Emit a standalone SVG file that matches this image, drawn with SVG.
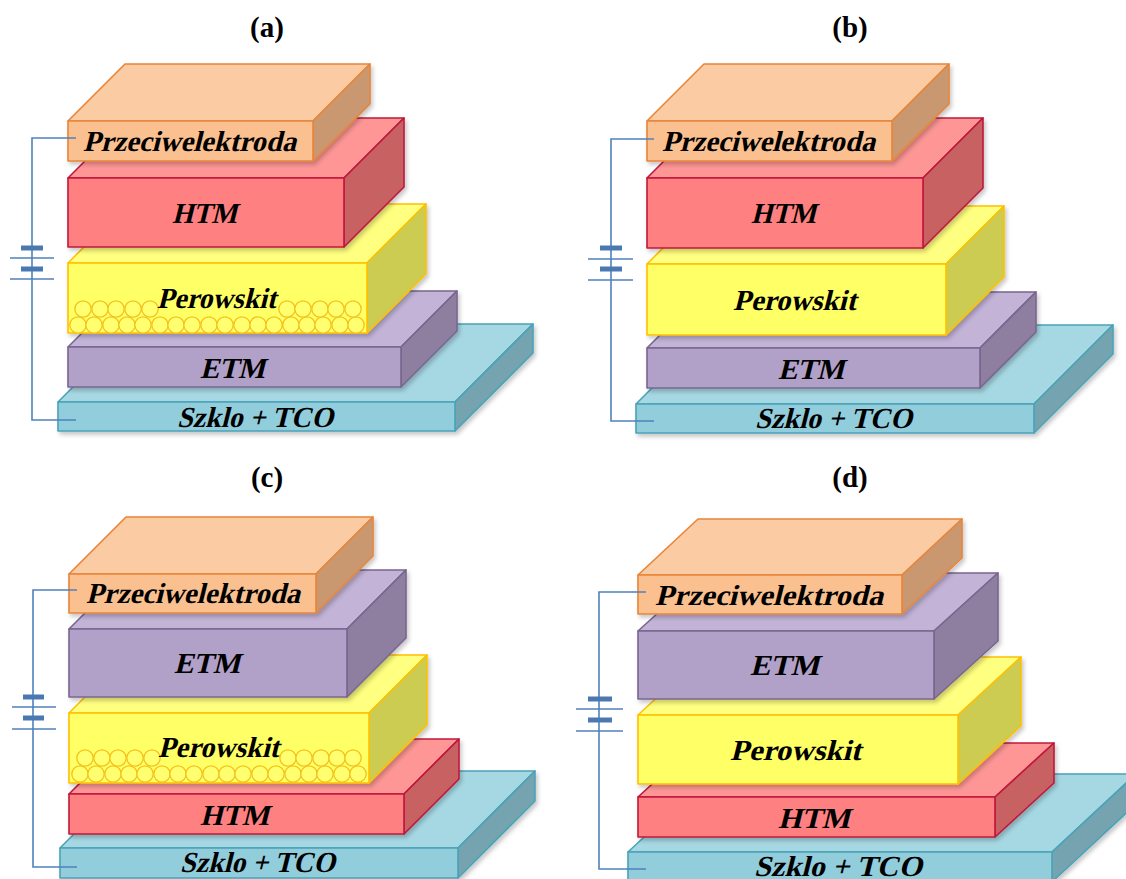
<svg xmlns="http://www.w3.org/2000/svg" width="1126" height="879" viewBox="0 0 1126 879">
  <defs>
    <style>
      .title { font-family: "Liberation Serif", "Times New Roman", serif; font-weight: bold; font-size: 29px; fill: #000; text-anchor: middle; }
      /* layer names: bold serif, slanted by a skew on each text */
      .lbl { font-family: "Liberation Serif", "Times New Roman", serif; font-weight: bold; font-size: 29px; fill: #000; }
      .slab { filter: url(#shadow); }
      .slab > * { stroke-width: 1.6; stroke-linejoin: round; }
      .ce > * { stroke: #E8853A; } .ce rect { fill: #FAC090; } .ce .top { fill: #FBCBA3; } .ce .side { fill: #C99870; }
      .htm > * { stroke: #C0183C; } .htm rect { fill: #FF8080; } .htm .top { fill: #FF9696; } .htm .side { fill: #C86262; }
      .pv > * { stroke: #FFC000; } .pv rect { fill: #FFFF66; } .pv .top { fill: #FFFF80; } .pv .side { fill: #CCCC52; }
      .etm > * { stroke: #7A6590; } .etm rect { fill: #B1A0C7; } .etm .top { fill: #C2B3D7; } .etm .side { fill: #8E7FA0; }
      .gl > * { stroke: #4AA3B8; } .gl rect { fill: #92CDDC; } .gl .top { fill: #A6D8E3; } .gl .side { fill: #74A4B0; }
      .bead { fill: #FFFF70; stroke: #F5C21B; stroke-width: 1.3; }
      .wire { fill: none; stroke: #4F81BD; stroke-width: 1.6; }
      .plate { fill: none; stroke: #4A78B0; stroke-width: 5; }
    </style>
    <filter id="shadow" x="-5%" y="-5%" width="115%" height="125%">
      <feDropShadow dx="2" dy="3" stdDeviation="2" flood-color="#000" flood-opacity="0.22"/>
    </filter>
    <circle id="bead" r="8.2"/>
  </defs>

  <rect width="1126" height="879" fill="#fff"/>

  <!-- Panel titles -->
  <text class="title" x="267" y="37">(a)</text>
  <text class="title" x="850" y="37">(b)</text>
  <text class="title" x="267" y="487">(c)</text>
  <text class="title" x="850" y="487">(d)</text>

  <!-- ===== Panel (a) ===== -->
  <g id="a-glass" class="slab gl">
    <polygon class="top" points="58,402 136,324 533,324 455,402"/>
    <polygon class="side" points="455,402 533,324 533,353 455,431"/>
    <rect x="58" y="402" width="397" height="29"/>
  </g>
  <g id="a-etm" class="slab etm">
    <polygon class="top" points="68,347 124,291 457,291 401,347"/>
    <polygon class="side" points="401,347 457,291 457,331 401,387"/>
    <rect x="68" y="347" width="333" height="40"/>
  </g>
  <g id="a-perovskite" class="slab pv">
    <polygon class="top" points="68,263 127,204 426,204 367,263"/>
    <polygon class="side" points="367,263 426,204 426,274 367,333"/>
    <rect x="68" y="263" width="299" height="70"/>
  </g>
  <g id="a-beads">
    <use href="#bead" class="bead" x="78" y="325"/><use href="#bead" class="bead" x="94" y="325"/>
    <use href="#bead" class="bead" x="111" y="325"/><use href="#bead" class="bead" x="127" y="325"/>
    <use href="#bead" class="bead" x="143" y="325"/><use href="#bead" class="bead" x="160" y="325"/>
    <use href="#bead" class="bead" x="176" y="325"/><use href="#bead" class="bead" x="192" y="325"/>
    <use href="#bead" class="bead" x="209" y="325"/><use href="#bead" class="bead" x="225" y="325"/>
    <use href="#bead" class="bead" x="242" y="325"/><use href="#bead" class="bead" x="258" y="325"/>
    <use href="#bead" class="bead" x="274" y="325"/><use href="#bead" class="bead" x="291" y="325"/>
    <use href="#bead" class="bead" x="307" y="325"/><use href="#bead" class="bead" x="323" y="325"/>
    <use href="#bead" class="bead" x="340" y="325"/><use href="#bead" class="bead" x="356" y="325"/>
    <use href="#bead" class="bead" x="83" y="309"/><use href="#bead" class="bead" x="100" y="309"/>
    <use href="#bead" class="bead" x="116" y="309"/><use href="#bead" class="bead" x="133" y="309"/>
    <use href="#bead" class="bead" x="150" y="309"/>
    <use href="#bead" class="bead" x="287" y="309"/><use href="#bead" class="bead" x="303" y="309"/>
    <use href="#bead" class="bead" x="320" y="309"/><use href="#bead" class="bead" x="336" y="309"/>
    <use href="#bead" class="bead" x="353" y="309"/>
  </g>
  <g id="a-htm" class="slab htm">
    <polygon class="top" points="68,178 128,118 404,118 344,178"/>
    <polygon class="side" points="344,178 404,118 404,187 344,247"/>
    <rect x="68" y="178" width="276" height="69"/>
  </g>
  <g id="a-electrode" class="slab ce">
    <polygon class="top" points="68,121 125,64 370,64 313,121"/>
    <polygon class="side" points="313,121 370,64 370,104 313,161"/>
    <rect x="68" y="121" width="245" height="40"/>
  </g>
  <g id="a-labels">
    <text class="lbl" transform="translate(83,151) skewX(-14)" textLength="213" lengthAdjust="spacingAndGlyphs">Przeciwelektroda</text>
    <text class="lbl" transform="translate(172,223) skewX(-14)" textLength="65" lengthAdjust="spacingAndGlyphs">HTM</text>
    <text class="lbl" transform="translate(157,308) skewX(-14)" textLength="119" lengthAdjust="spacingAndGlyphs">Perowskit</text>
    <text class="lbl" transform="translate(200,378) skewX(-14)" textLength="65" lengthAdjust="spacingAndGlyphs">ETM</text>
    <text class="lbl" transform="translate(177,427) skewX(-14)" textLength="156" lengthAdjust="spacingAndGlyphs">Szklo + TCO</text>
  </g>

  <!-- ===== Panel (b) ===== -->
  <g id="b-glass" class="slab gl">
    <polygon class="top" points="636,404 715,325 1113,325 1034,404"/>
    <polygon class="side" points="1034,404 1113,325 1113,354 1034,433"/>
    <rect x="636" y="404" width="398" height="29"/>
  </g>
  <g id="b-etm" class="slab etm">
    <polygon class="top" points="647,348 703,292 1036,292 980,348"/>
    <polygon class="side" points="980,348 1036,292 1036,332 980,388"/>
    <rect x="647" y="348" width="333" height="40"/>
  </g>
  <g id="b-perovskite" class="slab pv">
    <polygon class="top" points="647,264 705,206 1004,206 946,264"/>
    <polygon class="side" points="946,264 1004,206 1004,277 946,335"/>
    <rect x="647" y="264" width="299" height="71"/>
  </g>
  <g id="b-htm" class="slab htm">
    <polygon class="top" points="647,178 707,118 983,118 923,178"/>
    <polygon class="side" points="923,178 983,118 983,188 923,248"/>
    <rect x="647" y="178" width="276" height="70"/>
  </g>
  <g id="b-electrode" class="slab ce">
    <polygon class="top" points="647,121 704,64 949,64 892,121"/>
    <polygon class="side" points="892,121 949,64 949,104 892,161"/>
    <rect x="647" y="121" width="245" height="40"/>
  </g>
  <g id="b-labels">
    <text class="lbl" transform="translate(662,151) skewX(-14)" textLength="213" lengthAdjust="spacingAndGlyphs">Przeciwelektroda</text>
    <text class="lbl" transform="translate(751,223) skewX(-14)" textLength="65" lengthAdjust="spacingAndGlyphs">HTM</text>
    <text class="lbl" transform="translate(733,310) skewX(-14)" textLength="123" lengthAdjust="spacingAndGlyphs">Perowskit</text>
    <text class="lbl" transform="translate(778,379) skewX(-14)" textLength="66" lengthAdjust="spacingAndGlyphs">ETM</text>
    <text class="lbl" transform="translate(755,428) skewX(-14)" textLength="157" lengthAdjust="spacingAndGlyphs">Szklo + TCO</text>
  </g>

  <!-- ===== Panel (c) ===== -->
  <g id="c-glass" class="slab gl">
    <polygon class="top" points="60,848 137,771 535,771 458,848"/>
    <polygon class="side" points="458,848 535,771 535,801 458,878"/>
    <rect x="60" y="848" width="398" height="30"/>
  </g>
  <g id="c-htm" class="slab htm">
    <polygon class="top" points="69,794 124,739 459,739 404,794"/>
    <polygon class="side" points="404,794 459,739 459,779 404,834"/>
    <rect x="69" y="794" width="335" height="40"/>
  </g>
  <g id="c-perovskite" class="slab pv">
    <polygon class="top" points="69,713 127,655 427,655 369,713"/>
    <polygon class="side" points="369,713 427,655 427,725 369,783"/>
    <rect x="69" y="713" width="300" height="70"/>
  </g>
  <g id="c-beads">
    <use href="#bead" class="bead" x="80" y="774"/><use href="#bead" class="bead" x="96" y="774"/>
    <use href="#bead" class="bead" x="113" y="774"/><use href="#bead" class="bead" x="129" y="774"/>
    <use href="#bead" class="bead" x="145" y="774"/><use href="#bead" class="bead" x="162" y="774"/>
    <use href="#bead" class="bead" x="178" y="774"/><use href="#bead" class="bead" x="194" y="774"/>
    <use href="#bead" class="bead" x="211" y="774"/><use href="#bead" class="bead" x="227" y="774"/>
    <use href="#bead" class="bead" x="243" y="774"/><use href="#bead" class="bead" x="260" y="774"/>
    <use href="#bead" class="bead" x="276" y="774"/><use href="#bead" class="bead" x="293" y="774"/>
    <use href="#bead" class="bead" x="309" y="774"/><use href="#bead" class="bead" x="325" y="774"/>
    <use href="#bead" class="bead" x="342" y="774"/><use href="#bead" class="bead" x="358" y="774"/>
    <use href="#bead" class="bead" x="85" y="758"/><use href="#bead" class="bead" x="102" y="758"/>
    <use href="#bead" class="bead" x="118" y="758"/><use href="#bead" class="bead" x="135" y="758"/>
    <use href="#bead" class="bead" x="152" y="758"/>
    <use href="#bead" class="bead" x="288" y="758"/><use href="#bead" class="bead" x="304" y="758"/>
    <use href="#bead" class="bead" x="321" y="758"/><use href="#bead" class="bead" x="337" y="758"/>
    <use href="#bead" class="bead" x="353" y="758"/>
  </g>
  <g id="c-etm" class="slab etm">
    <polygon class="top" points="69,629 128,570 406,570 347,629"/>
    <polygon class="side" points="347,629 406,570 406,638 347,697"/>
    <rect x="69" y="629" width="278" height="68"/>
  </g>
  <g id="c-electrode" class="slab ce">
    <polygon class="top" points="69,574 126,517 373,517 316,574"/>
    <polygon class="side" points="316,574 373,517 373,556 316,613"/>
    <rect x="69" y="574" width="247" height="39"/>
  </g>
  <g id="c-labels">
    <text class="lbl" transform="translate(86,603) skewX(-14)" textLength="214" lengthAdjust="spacingAndGlyphs">Przeciwelektroda</text>
    <text class="lbl" transform="translate(174,673) skewX(-14)" textLength="66" lengthAdjust="spacingAndGlyphs">ETM</text>
    <text class="lbl" transform="translate(158,757) skewX(-14)" textLength="121" lengthAdjust="spacingAndGlyphs">Perowskit</text>
    <text class="lbl" transform="translate(200,825) skewX(-14)" textLength="69" lengthAdjust="spacingAndGlyphs">HTM</text>
    <text class="lbl" transform="translate(180,872) skewX(-14)" textLength="155" lengthAdjust="spacingAndGlyphs">Szklo + TCO</text>
  </g>

  <!-- ===== Panel (d) ===== -->
  <g id="d-glass" class="slab gl">
    <polygon class="top" points="628,852 712,774 1136,774 1052,852"/>
    <polygon class="side" points="1052,852 1136,774 1136,804 1052,882"/>
    <rect x="628" y="852" width="424" height="30"/>
  </g>
  <g id="d-htm" class="slab htm">
    <polygon class="top" points="638,797 697,743 1054,743 995,797"/>
    <polygon class="side" points="995,797 1054,743 1054,783 995,837"/>
    <rect x="638" y="797" width="357" height="40"/>
  </g>
  <g id="d-perovskite" class="slab pv">
    <polygon class="top" points="638,715 701,657 1021,657 958,715"/>
    <polygon class="side" points="958,715 1021,657 1021,726 958,784"/>
    <rect x="638" y="715" width="320" height="69"/>
  </g>
  <g id="d-etm" class="slab etm">
    <polygon class="top" points="638,631 702,573 998,573 934,631"/>
    <polygon class="side" points="934,631 998,573 998,641 934,699"/>
    <rect x="638" y="631" width="296" height="68"/>
  </g>
  <g id="d-electrode" class="slab ce">
    <polygon class="top" points="638,575 698,519 962,519 902,575"/>
    <polygon class="side" points="902,575 962,519 962,558 902,614"/>
    <rect x="638" y="575" width="264" height="39"/>
  </g>
  <g id="d-labels">
    <text class="lbl" transform="translate(655,605) skewX(-14)" textLength="228" lengthAdjust="spacingAndGlyphs">Przeciwelektroda</text>
    <text class="lbl" transform="translate(750,675) skewX(-14)" textLength="69" lengthAdjust="spacingAndGlyphs">ETM</text>
    <text class="lbl" transform="translate(730,760) skewX(-14)" textLength="131" lengthAdjust="spacingAndGlyphs">Perowskit</text>
    <text class="lbl" transform="translate(778,828) skewX(-14)" textLength="72" lengthAdjust="spacingAndGlyphs">HTM</text>
    <text class="lbl" transform="translate(754,876) skewX(-14)" textLength="168" lengthAdjust="spacingAndGlyphs">Szklo + TCO</text>
  </g>

  <!-- External circuit: wire from electrode to glass/TCO with a battery symbol -->
  <g id="connectors">
    <polyline class="wire" points="76,138 32,138 32,420 76,420"/>
    <line class="wire" x1="10" y1="258" x2="54" y2="258"/>
    <line class="wire" x1="10" y1="279" x2="54" y2="279"/>
    <line class="plate" x1="21" y1="248" x2="43" y2="248"/>
    <line class="plate" x1="21" y1="269" x2="43" y2="269"/>

    <polyline class="wire" points="654,139 611,139 611,421 654,421"/>
    <line class="wire" x1="588" y1="259" x2="633" y2="259"/>
    <line class="wire" x1="588" y1="280" x2="633" y2="280"/>
    <line class="plate" x1="600" y1="248" x2="622" y2="248"/>
    <line class="plate" x1="600" y1="269" x2="622" y2="269"/>

    <polyline class="wire" points="77,590 33,590 33,867 77,867"/>
    <line class="wire" x1="12" y1="707" x2="56" y2="707"/>
    <line class="wire" x1="12" y1="729" x2="56" y2="729"/>
    <line class="plate" x1="23" y1="697" x2="44" y2="697"/>
    <line class="plate" x1="23" y1="718" x2="44" y2="718"/>

    <polyline class="wire" points="646,592 599,592 599,869 646,869"/>
    <line class="wire" x1="576" y1="709" x2="623" y2="709"/>
    <line class="wire" x1="576" y1="731" x2="623" y2="731"/>
    <line class="plate" x1="588" y1="699" x2="612" y2="699"/>
    <line class="plate" x1="588" y1="720" x2="612" y2="720"/>
  </g>
</svg>
